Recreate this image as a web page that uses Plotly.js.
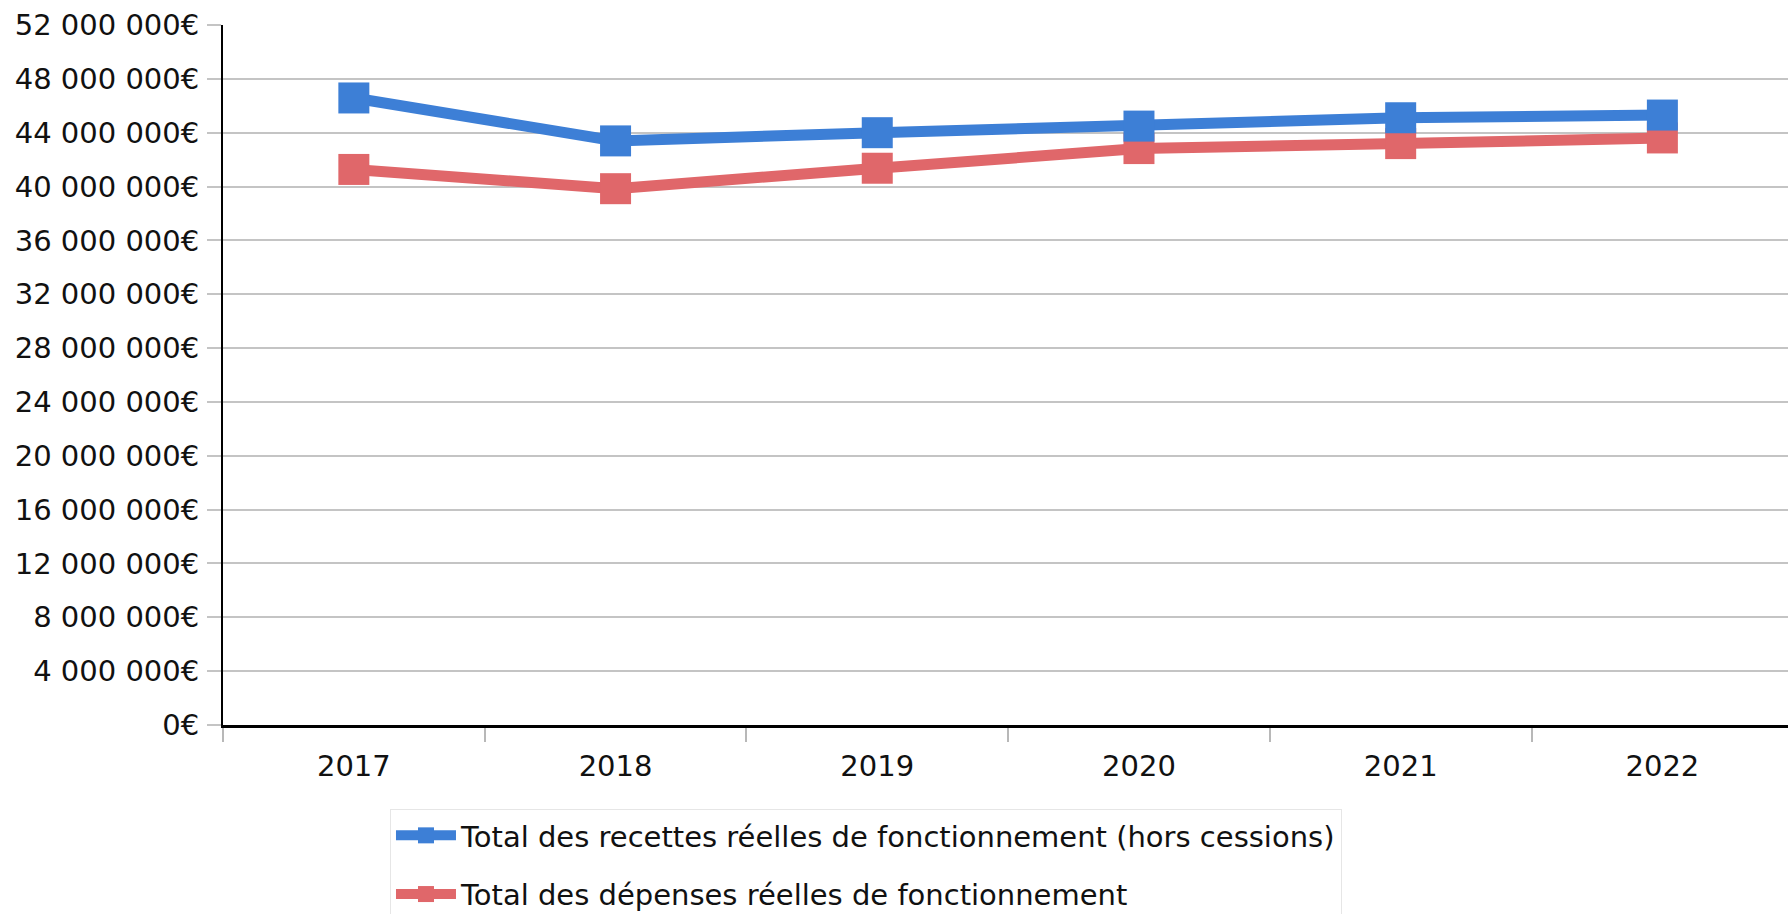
<!DOCTYPE html>
<html>
<head>
<meta charset="utf-8">
<script src="https://cdn.plot.ly/plotly-3.0.1.min.js"></script>
<style>
  html, body { margin: 0; padding: 0; background: #ffffff; }
  #chart { width: 1788px; height: 914px; }
</style>
</head>
<body>
<div id="chart"></div>
<script>
const years = ['2017', '2018', '2019', '2020', '2021', '2022'];
const recettes = [46580000, 43390000, 44000000, 44490000, 45110000, 45310000];
const depenses = [41270000, 39840000, 41360000, 42820000, 43190000, 43610000];
const recettesName = 'Total des recettes réelles de fonctionnement (hors cessions)';
const depensesName = 'Total des dépenses réelles de fonctionnement';
const yTickValues = [0, 4000000, 8000000, 12000000, 16000000, 20000000, 24000000,
  28000000, 32000000, 36000000, 40000000, 44000000, 48000000, 52000000];
const yTickLabels = ['0€', '4 000 000€', '8 000 000€', '12 000 000€', '16 000 000€',
  '20 000 000€', '24 000 000€', '28 000 000€', '32 000 000€', '36 000 000€',
  '40 000 000€', '44 000 000€', '48 000 000€', '52 000 000€'];

const BLUE = '#3d7fd6';
const RED = '#e0676a';

const traces = [
  {
    type: 'scatter', mode: 'lines+markers', name: depensesName, legendgroup: 'd', legendrank: 2,
    x: years, y: depenses,
    line: { color: RED, width: 11 },
    marker: { symbol: 'square', size: 31, color: RED }
  },
  {
    type: 'scatter', mode: 'lines+markers', name: recettesName, legendgroup: 'r', legendrank: 1,
    x: years, y: recettes,
    line: { color: BLUE, width: 11 },
    marker: { symbol: 'square', size: 31, color: BLUE }
  }
];

const layout = {
  width: 1788, height: 914,
  margin: { l: 223, r: 0, t: 25, b: 189, autoexpand: false },
  paper_bgcolor: '#ffffff', plot_bgcolor: '#ffffff',
  font: { family: 'DejaVu Sans', size: 29, color: '#111111' },
  showlegend: true,
  legend: {
    x: 0.1067, y: -0.12, xanchor: 'left', yanchor: 'top',
    bordercolor: '#e6e6e6', borderwidth: 1, bgcolor: '#ffffff',
    traceorder: 'grouped', tracegroupgap: 18,
    font: { family: 'DejaVu Sans', size: 29, color: '#111111' },
    itemwidth: 60,
    entrywidth: 978, entrywidthmode: 'pixels'
  },
  xaxis: {
    type: 'category', categoryorder: 'array', categoryarray: years,
    range: [-0.5, 5.48],
    showline: true, linecolor: '#000000', linewidth: 3,
    showgrid: false, zeroline: false,
    ticks: 'outside', tickson: 'boundaries', ticklen: 14, tickwidth: 2, tickcolor: '#b8b8b8',
    ticklabelstandoff: 13,
    tickfont: { family: 'DejaVu Sans', size: 29, color: '#111111' },
    fixedrange: true
  },
  yaxis: {
    range: [0, 52000000],
    tickmode: 'array', tickvals: yTickValues, ticktext: yTickLabels,
    showline: true, linecolor: '#000000', linewidth: 2,
    showgrid: true, gridcolor: '#c4c4c4', gridwidth: 2, zeroline: false,
    ticks: 'outside', ticklen: 14, tickwidth: 2, tickcolor: '#c4c4c4',
    ticklabelstandoff: 2,
    tickfont: { family: 'DejaVu Sans', size: 29, color: '#111111' },
    fixedrange: true
  }
};

Plotly.newPlot('chart', traces, layout, { displayModeBar: false, staticPlot: true });
</script>
</body>
</html>
